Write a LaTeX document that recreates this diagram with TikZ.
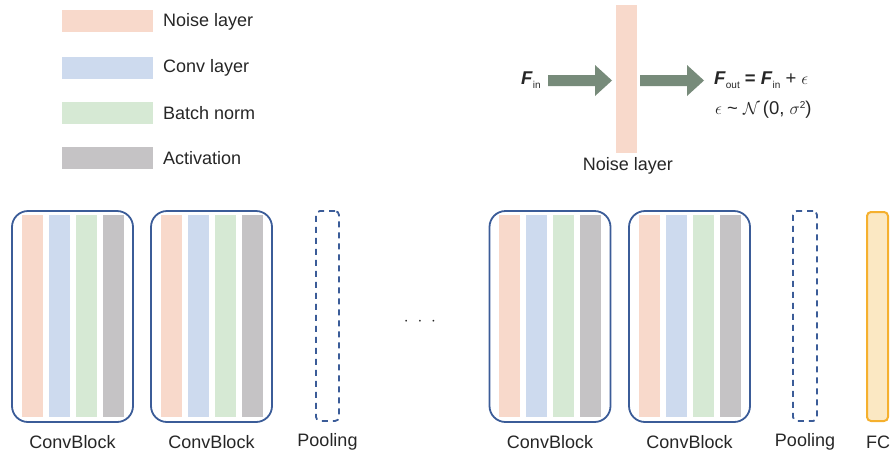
\documentclass[tikz,border=0pt]{standalone}
\usepackage{fontspec}
\setmainfont{Liberation Sans}
\usetikzlibrary{positioning}
\definecolor{noisec}{HTML}{F8D9CB}
\definecolor{convc}{HTML}{CDDAEE}
\definecolor{bnc}{HTML}{D6E9D4}
\definecolor{actc}{HTML}{C5C3C5}
\definecolor{blockc}{HTML}{3B5C98}
\definecolor{arrowc}{HTML}{778B7A}
\definecolor{fcborder}{HTML}{F5B02E}
\definecolor{fcfill}{HTML}{FBE8C3}
\definecolor{textc}{HTML}{262626}
\tikzset{
  every node/.style={text=textc, font=\fontsize{18}{20}\selectfont},
  swatch/.style={draw=none, minimum width=91pt, minimum height=22pt, inner sep=0pt},
  stripe/.style={draw=none, minimum width=21pt, minimum height=202pt, inner sep=0pt},
  block/.style={draw=blockc, line width=1.8pt, rounded corners=16pt, minimum width=121pt, minimum height=211pt, inner sep=0pt},
  poolbox/.style={draw=blockc, line width=1.8pt, dash pattern=on 6pt off 5pt, rounded corners=4pt, minimum width=23pt, minimum height=210pt, inner sep=0pt},
  fcbox/.style={draw=fcborder, fill=fcfill, line width=2pt, rounded corners=4pt, minimum width=21pt, minimum height=209pt, inner sep=0pt},
  lbl/.style={anchor=center, inner sep=0pt},
  eqn/.style={anchor=west, inner sep=0pt, font=\fontsize{18.5}{20}\selectfont},
  fatarrow/.style={fill=arrowc, draw=none}
}
\newcommand{\bF}{\textbf{\textit{F}}}
\newcommand{\subsc}[1]{\raisebox{-4pt}{\fontsize{10}{10}\selectfont #1}}
\newcommand{\supsc}[1]{\raisebox{6pt}{\fontsize{10}{10}\selectfont #1}}
\begin{document}
\begin{tikzpicture}[x=1pt,y=-1pt]
\useasboundingbox (0,0) rectangle (893,456);
% legend
\node[swatch, fill=noisec] (ln) at (107.5,21) {};
\node[swatch, fill=convc] (lc) at (107.5,67.5) {};
\node[swatch, fill=bnc] (lb) at (107.5,112.5) {};
\node[swatch, fill=actc] (la) at (107.5,157.5) {};
\node[anchor=west, inner sep=0pt] (tn) at (163,21.5) {Noise layer};
\node[anchor=west, inner sep=0pt] (tc) at (163,68) {Conv layer};
\node[anchor=west, inner sep=0pt] (tb) at (163,113) {Batch norm};
\node[anchor=west, inner sep=0pt] (ta) at (163,158) {Activation};
% noise layer illustration
\node[draw=none, fill=noisec, minimum width=21pt, minimum height=148pt, inner sep=0pt] (nl) at (626.5,79) {};
\node[lbl] (nllbl) at (628,166) {Noise layer};
\coordinate (a1) at (548,80.5);
\coordinate (a2) at (640,80.5);
\path[fatarrow] (a1) ++(0,-5.5) -- ++(47,0) -- ++(0,-10) -- ++(17,15.5) -- ++(-17,15.5) -- ++(0,-10) -- ++(-47,0) -- cycle;
\path[fatarrow] (a2) ++(0,-5.5) -- ++(47,0) -- ++(0,-10) -- ++(17,15.5) -- ++(-17,15.5) -- ++(0,-10) -- ++(-47,0) -- cycle;
\node[eqn] (fin) at (521,80.5) {\bF\subsc{in}};
\node[eqn] (fout) at (714,80.5) {\bF\subsc{out} \textbf{=} \bF\subsc{in} + $\epsilon$};
\node[eqn] (dist) at (715,110) {$\epsilon$ \textasciitilde{} $\mathcal{N}$\,(0, $\sigma$\supsc{2})};
% blocks
\foreach \nm/\cx in {b1/72.5, b2/211.5, b3/550, b4/689.5}{
  \node[stripe, fill=noisec] (\nm n) at (\cx-40.5,316) {};
  \node[stripe, fill=convc] (\nm c) at (\cx-13.5,316) {};
  \node[stripe, fill=bnc] (\nm b) at (\cx+13.5,316) {};
  \node[stripe, fill=actc] (\nm a) at (\cx+40.5,316) {};
  \node[block] (\nm) at (\cx,316.5) {};
  \node[lbl] (\nm lbl) at (\cx,442) {ConvBlock};
}
\node[poolbox] (p1) at (327.5,316) {};
\node[lbl] (p1lbl) at (327.5,442) {Pooling};
\node[poolbox, minimum width=24pt] (p2) at (805,316) {};
\node[lbl] (p2lbl) at (805,442) {Pooling};
\node[fcbox] (fc) at (877.5,316.5) {};
\node[lbl] (fclbl) at (878,442) {FC};
\node[lbl] (dots) at (420,322) {$\cdot\ \cdot\ \cdot$};
\end{tikzpicture}
\end{document}
